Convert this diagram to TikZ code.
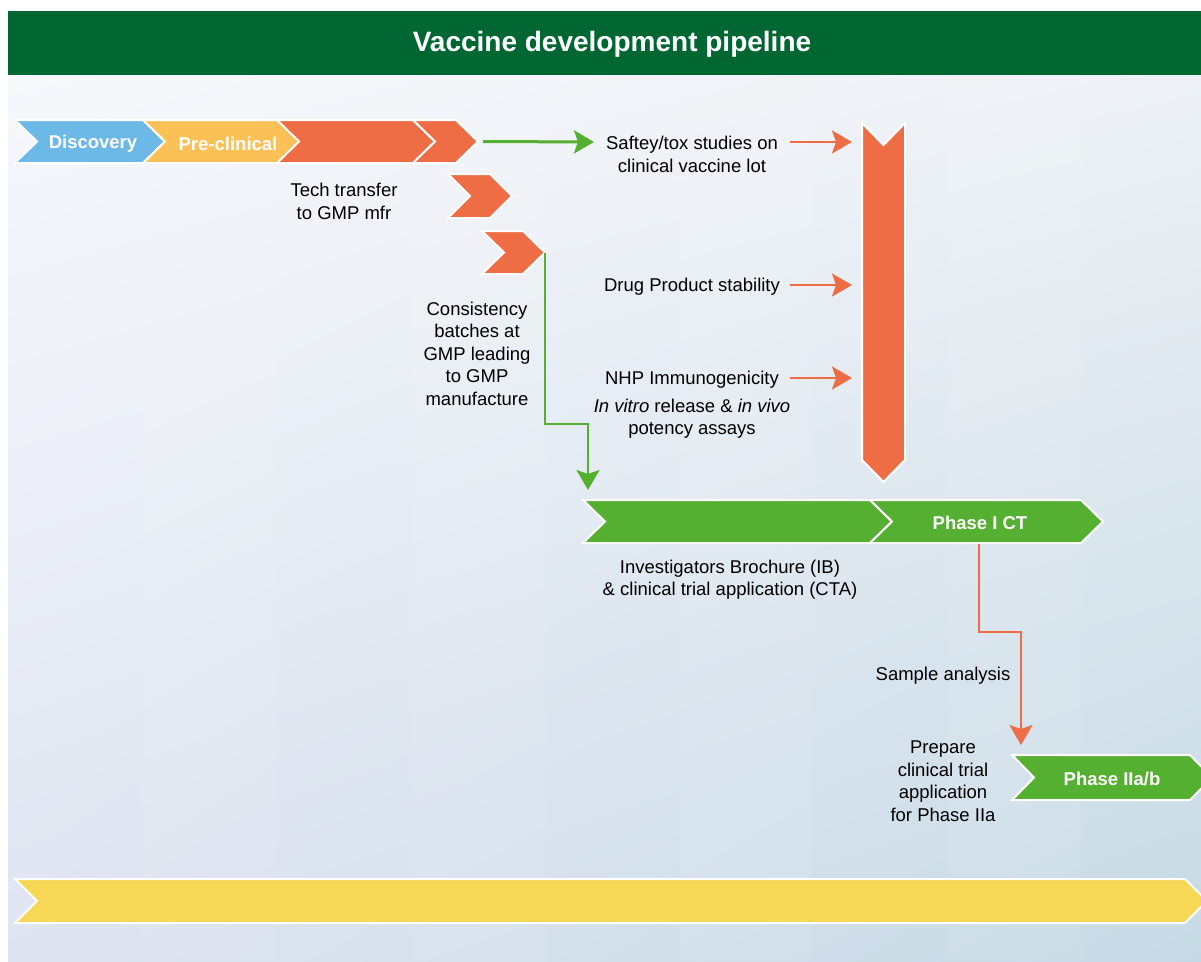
\documentclass[tikz,border=0pt]{standalone}
\usepackage{fontspec}
\setmainfont{Liberation Sans}
\usetikzlibrary{arrows.meta,shadings}

\definecolor{hdrgreen}{HTML}{006632}
\definecolor{discblue}{HTML}{6CB9E7}
\definecolor{preyellow}{HTML}{FBC156}
\definecolor{devorange}{HTML}{EE6D44}
\definecolor{trialgreen}{HTML}{55AF31}
\definecolor{baryellow}{HTML}{F7D856}
\definecolor{bgUL}{HTML}{F7F8FC}
\definecolor{bgUR}{HTML}{EDF1F5}
\definecolor{bgLL}{HTML}{DFE4F1}
\definecolor{bgLR}{HTML}{C6DAE5}

% horizontal chevron: name, left x, top y, tip x, bottom y, point depth, colour
\newcommand\pipechev[7]{%
  \path[chev,fill=#7] (#2,#3) -- (#4-#6,#3) -- (#4,{(#3+#5)/2}) -- (#4-#6,#5)
    -- (#2,#5) -- (#2+#6,{(#3+#5)/2}) -- cycle;
  \coordinate (#1-tip) at (#4,{(#3+#5)/2});
  \coordinate (#1-c) at ({(#2+#4)/2},{(#3+#5)/2});
}

\begin{document}
\begin{tikzpicture}[x=1pt,y=-1pt,
  chev/.style={draw=white,line width=2pt,line join=miter},
  lbl/.style={font=\fontsize{18.5}{22.5}\selectfont,align=center,inner sep=0pt,text=black},
  chevlbl/.style={font=\bfseries\fontsize{18.5}{22.5}\selectfont,text=white,inner sep=0pt},
  tip/.style={-{Stealth[length=20pt,width=23pt,inset=4pt]}},
  garrow/.style={draw=trialgreen,line width=3pt,tip},
  oarrow/.style={draw=devorange,line width=2.6pt,tip},
  gelbow/.style={draw=trialgreen,line width=2pt,tip},
  oelbow/.style={draw=devorange,line width=2pt,tip}]

\clip (0,0) rectangle (1201,961);
\fill[white] (0,0) rectangle (1201,961);

% backdrop with soft column bands
\shade[upper left=bgUL,upper right=bgUR,lower left=bgLL,lower right=bgLR]
  (8,75) rectangle (1201,961);
\foreach \i in {1,3,5,7}
  \fill[white,opacity=0.07] ({9+134*\i},75) rectangle ({9+134*(\i+1)},961);

% title bar
\fill[hdrgreen] (8,11) rectangle (1201,75);
\node[font=\bfseries\fontsize{28}{32}\selectfont,text=white,inner sep=0pt] (title) at (612,44.5) {Vaccine development pipeline};

% early stages
\pipechev{disc}{15}{120}{165}{163}{22}{discblue}
\pipechev{pre}{143}{120}{300}{163}{22}{preyellow}
\pipechev{orA}{277}{120}{435}{163}{22}{devorange}
\pipechev{orB}{413}{120}{478}{163}{22}{devorange}
\pipechev{orC}{448}{174}{512}{218}{22}{devorange}
\pipechev{orD}{482}{231}{545}{274}{22}{devorange}
\node[chevlbl] (discL) at (93,143.5) {Discovery};
\node[chevlbl] (preL) at (228,143.5) {Pre-clinical};

% vertical chevron collecting the studies
\path[chev,fill=devorange] (862,123) -- (883.5,145) -- (905,123) -- (905,460)
  -- (883.5,482) -- (862,460) -- cycle;
\coordinate (vert-w) at (852,300);

% clinical stages
\pipechev{ib}{583}{500}{892}{543}{22}{trialgreen}
\pipechev{ph1}{870}{500}{1103}{543}{22}{trialgreen}
\pipechev{ph2}{1012}{755}{1212}{800}{22}{trialgreen}
\pipechev{bar}{15}{879}{1207}{923}{22}{baryellow}
\node[chevlbl] (ph1L) at (980,523) {Phase I CT};
\node[chevlbl] (ph2L) at (1112,779) {Phase IIa/b};

% texts
\node[lbl] (tech) at (344,201.5) {Tech transfer\\to GMP mfr};
\node[lbl] (cons) at (477,353.5) {Consistency\\batches at\\GMP leading\\to GMP\\manufacture};
\node[lbl] (saf) at (692,154.5) {Saftey/tox studies on\\clinical vaccine lot};
\node[lbl] (dps) at (692,286.5) {Drug Product stability};
\node[lbl] (nhp) at (692,379.5) {NHP Immunogenicity};
\node[lbl] (ivr) at (692,418.5) {\textit{In vitro} release \& \textit{in vivo}\\potency assays};
\node[lbl] (ibt) at (730,579.5) {Investigators Brochure (IB)\\\& clinical trial application (CTA)};
\node[lbl] (samp) at (943,675.5) {Sample analysis};
\node[lbl] (prep) at (943,781) {Prepare\\clinical trial\\application\\for Phase IIa};

% connectors
\coordinate (safIn) at (594,142);
\draw[garrow] ([xshift=5pt]orB-tip) -- (safIn);
\coordinate (safOut) at (790,142);
\coordinate (dpsOut) at (790,285);
\coordinate (nhpOut) at (790,378);
\draw[oarrow] (safOut) -- (safOut -| vert-w);
\draw[oarrow] (dpsOut) -- (dpsOut -| vert-w);
\draw[oarrow] (nhpOut) -- (nhpOut -| vert-w);

\coordinate (ibIn) at (588,490);
\draw[gelbow] (orD-tip) -- (545,424) -| (ibIn);

\coordinate (ph1Out) at (979,544);
\coordinate (ph2In) at (1021,745);
\draw[oelbow] (ph1Out) -- (979,632) -| (ph2In);
\end{tikzpicture}
\end{document}
